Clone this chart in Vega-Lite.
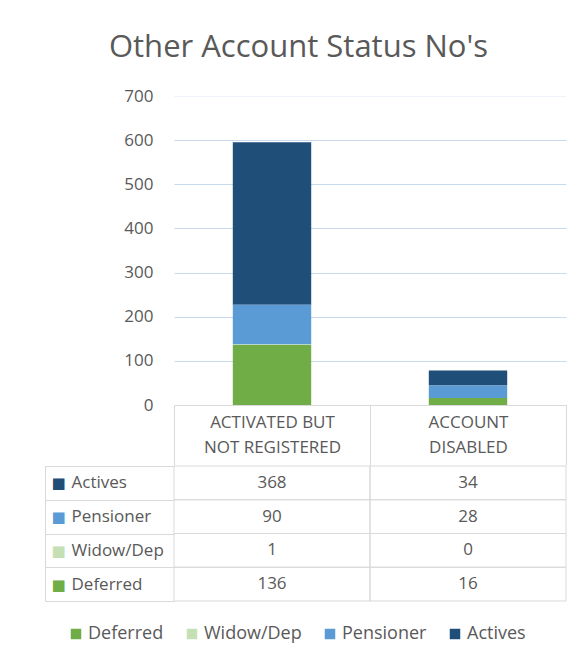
{
  "$schema": "https://vega.github.io/schema/vega-lite/v6.json",
  "padding": {"left": 44, "top": 32, "right": 21, "bottom": 20},
  "background": "white",
  "title": {"text": "Other Account Status No's", "font": "Open Sans", "fontSize": 31, "fontWeight": "normal", "color": "#595959", "anchor": "middle", "offset": 23, "dx": -7},
  "data": {"values": [
    {"category": "ACTIVATED BUT NOT REGISTERED", "series": "Actives", "value": 368},
    {"category": "ACTIVATED BUT NOT REGISTERED", "series": "Pensioner", "value": 90},
    {"category": "ACTIVATED BUT NOT REGISTERED", "series": "Widow/Dep", "value": 1},
    {"category": "ACTIVATED BUT NOT REGISTERED", "series": "Deferred", "value": 136},
    {"category": "ACCOUNT DISABLED", "series": "Actives", "value": 34},
    {"category": "ACCOUNT DISABLED", "series": "Pensioner", "value": 28},
    {"category": "ACCOUNT DISABLED", "series": "Widow/Dep", "value": 0},
    {"category": "ACCOUNT DISABLED", "series": "Deferred", "value": 16}
  ]},
  "spacing": -10,
  "vconcat": [
    {
      "width": 392,
      "height": 309,
      "transform": [
        {"calculate": "indexof(['Deferred', 'Widow/Dep', 'Pensioner', 'Actives'], datum.series)", "as": "stackOrder"}
      ],
      "mark": {"type": "bar", "width": {"band": 0.4}},
      "encoding": {
        "x": {
          "field": "category", "type": "nominal",
          "sort": ["ACTIVATED BUT NOT REGISTERED", "ACCOUNT DISABLED"],
          "scale": {"paddingInner": 0, "paddingOuter": 0},
          "axis": {
            "title": null, "orient": "bottom", "domain": true, "domainColor": "#d9d9d9",
            "ticks": true, "tickSize": 60, "tickBand": "extent", "tickColor": "#d9d9d9",
            "labelAngle": 0,
            "labelExpr": "datum.value === 'ACTIVATED BUT NOT REGISTERED' ? ['ACTIVATED BUT', 'NOT REGISTERED'] : (datum.value === 'ACCOUNT DISABLED' ? ['ACCOUNT', 'DISABLED'] : '')",
            "labelBaseline": "middle", "labelPadding": -43, "labelLineHeight": 25,
            "labelFontSize": 17, "labelColor": "#595959", "labelFont": "Open Sans", "labelLimit": 300
          }
        },
        "y": {
          "field": "value", "type": "quantitative",
          "scale": {"domain": [0, 700], "nice": false},
          "axis": {
            "title": null, "values": [0, 100, 200, 300, 400, 500, 600, 700],
            "domain": false, "ticks": false, "labelPadding": 21,
            "labelFontSize": 17, "labelColor": "#595959", "labelFont": "Open Sans",
            "grid": true,
            "gridColor": {"condition": {"test": "datum.value === 700", "value": "#eef4fa"}, "value": "#c9dcef"},
            "gridOpacity": {"condition": {"test": "datum.value === 0", "value": 0}, "value": 1}
          }
        },
        "order": {"field": "stackOrder", "type": "quantitative", "sort": "ascending"},
        "color": {
          "field": "series", "type": "nominal",
          "scale": {"domain": ["Deferred", "Widow/Dep", "Pensioner", "Actives"], "range": ["#70ad47", "#c5e0b4", "#5b9bd5", "#1f4e79"]},
          "legend": {
            "orient": "none", "legendX": -107, "legendY": 529, "padding": 0,
            "direction": "horizontal", "title": null,
            "symbolType": "square", "symbolSize": 110, "symbolStrokeWidth": 0,
            "labelFontSize": 18, "labelColor": "#595959", "labelFont": "Open Sans",
            "columnPadding": 19, "labelOffset": 3
          }
        }
      }
    },
    {
      "width": 392,
      "height": 135,
      "resolve": {"scale": {"y": "independent"}, "axis": {"y": "independent"}},
      "layer": [
        {
          "mark": {"type": "rect", "filled": false, "stroke": "#d9d9d9", "strokeWidth": 1},
          "encoding": {
            "x": {"field": "category", "type": "nominal", "sort": ["ACTIVATED BUT NOT REGISTERED", "ACCOUNT DISABLED"], "scale": {"paddingInner": 0, "paddingOuter": 0}, "axis": null},
            "y": {
              "field": "series", "type": "nominal",
              "sort": ["Actives", "Pensioner", "Widow/Dep", "Deferred"],
              "scale": {"paddingInner": 0, "paddingOuter": 0},
              "axis": {
                "orient": "left", "title": null, "domain": false, "grid": false,
                "ticks": true, "tickBand": "extent", "tickSize": 129, "tickColor": "#d9d9d9",
                "labelAlign": "left", "labelPadding": -26, "labelBaseline": "middle",
                "labelFontSize": 17, "labelColor": "#595959", "labelFont": "Open Sans", "labelLimit": 200
              }
            }
          }
        },
        {
          "mark": {"type": "text", "align": "center", "baseline": "middle", "fontSize": 17, "font": "Open Sans", "color": "#595959"},
          "encoding": {
            "x": {"field": "category", "type": "nominal", "sort": ["ACTIVATED BUT NOT REGISTERED", "ACCOUNT DISABLED"], "scale": {"paddingInner": 0, "paddingOuter": 0}, "axis": null},
            "y": {
              "field": "series", "type": "nominal",
              "sort": ["Actives", "Pensioner", "Widow/Dep", "Deferred"],
              "scale": {"paddingInner": 0, "paddingOuter": 0},
              "axis": {
                "orient": "left", "title": null, "offset": 129,
                "domain": true, "domainColor": "#d9d9d9", "ticks": false, "grid": false,
                "labelExpr": "'■'", "labelAlign": "left", "labelPadding": -6, "labelBaseline": "middle",
                "labelFontSize": 15, "labelFont": "DejaVu Sans",
                "labelColor": {"condition": [
                  {"test": "datum.value === 'Actives'", "value": "#1f4e79"},
                  {"test": "datum.value === 'Pensioner'", "value": "#5b9bd5"},
                  {"test": "datum.value === 'Widow/Dep'", "value": "#c5e0b4"}
                ], "value": "#70ad47"}
              }
            },
            "text": {"field": "value", "type": "quantitative"}
          }
        }
      ]
    }
  ],
  "config": {"view": {"stroke": null}}
}
